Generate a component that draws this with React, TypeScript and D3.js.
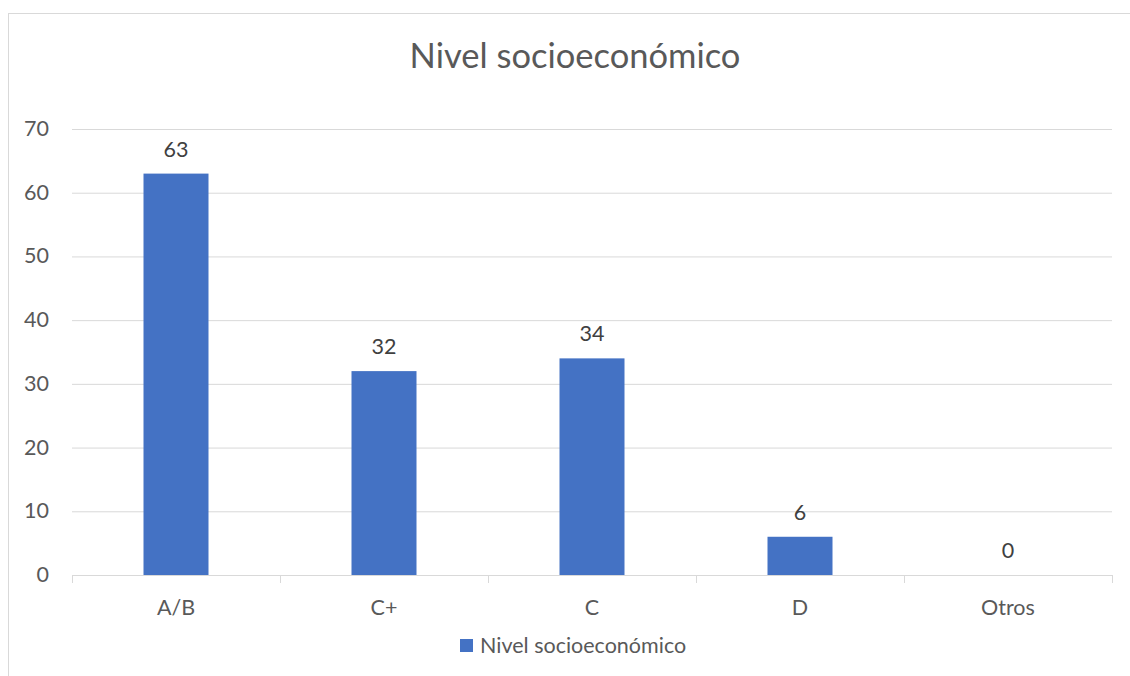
import * as d3 from "d3";

const categories: string[] = ["A/B", "C+", "C", "D", "Otros"];
const values: number[] = [63, 32, 34, 6, 0];
const yTicks: number[] = [0, 10, 20, 30, 40, 50, 60, 70];
const seriesName = "Nivel socioeconómico";
const title = "Nivel socioeconómico";

function App() {
  const width = 1130;
  const height = 676;
  const font = "Lato, 'Open Sans', sans-serif";

  // plot area
  const left = 72;
  const right = 1112;
  const top = 129;
  const bottom = 575;

  const x = d3.scaleBand().domain(categories).range([left, right]).paddingInner(0.6875).paddingOuter(0.34375);
  const y = d3.scaleLinear().domain([0, 70]).range([bottom, top]);
  const step = (right - left) / categories.length;

  return (
    <svg width={width} height={height} style={{ position: "absolute", left: 0, top: 0 }}>
      <rect x={0} y={0} width={width} height={height} fill="#fff" />
      {/* chart frame */}
      <rect x={8.5} y={13.5} width={1140} height={700} fill="none" stroke="#d9d9d9" strokeWidth={1} />

      <text x={575} y={68} textAnchor="middle" fontFamily={font} fontSize={34.5} fill="#595959">
        {title}
      </text>

      {/* gridlines + y labels */}
      {yTicks.map((t) => (
        <g key={t}>
          {t > 0 && <line x1={left} x2={right} y1={y(t) + 0.5} y2={y(t) + 0.5} stroke="#d9d9d9" strokeWidth={1} />}
          <text x={49} y={y(t) + 7} textAnchor="end" fontFamily={font} fontSize={21.5} fill="#595959">
            {t}
          </text>
        </g>
      ))}

      {/* bars */}
      {values.map((v, i) => (
        <rect key={i} x={x(categories[i])!} y={y(v)} width={x.bandwidth()} height={bottom - y(v)} fill="#4472c4" />
      ))}

      {/* x axis */}
      <line x1={left} x2={right} y1={bottom + 0.5} y2={bottom + 0.5} stroke="#d9d9d9" strokeWidth={1} />
      {d3.range(categories.length + 1).map((i) => (
        <line key={i} x1={left + i * step + 0.5} x2={left + i * step + 0.5} y1={bottom} y2={bottom + 8} stroke="#d9d9d9" strokeWidth={1} />
      ))}
      {categories.map((c) => (
        <text key={c} x={x(c)! + x.bandwidth() / 2} y={615} textAnchor="middle" fontFamily={font} fontSize={21.5} fill="#595959">
          {c}
        </text>
      ))}

      {/* data labels */}
      {values.map((v, i) => (
        <text key={i} x={x(categories[i])! + x.bandwidth() / 2} y={y(v) - 17} textAnchor="middle" fontFamily={font} fontSize={21.5} fill="#404040">
          {v}
        </text>
      ))}

      {/* legend */}
      <rect x={460} y={639} width={13} height={13} fill="#4472c4" />
      <text x={480} y={653} fontFamily={font} fontSize={21.5} fill="#595959">
        {seriesName}
      </text>
    </svg>
  );
}

export default App;
